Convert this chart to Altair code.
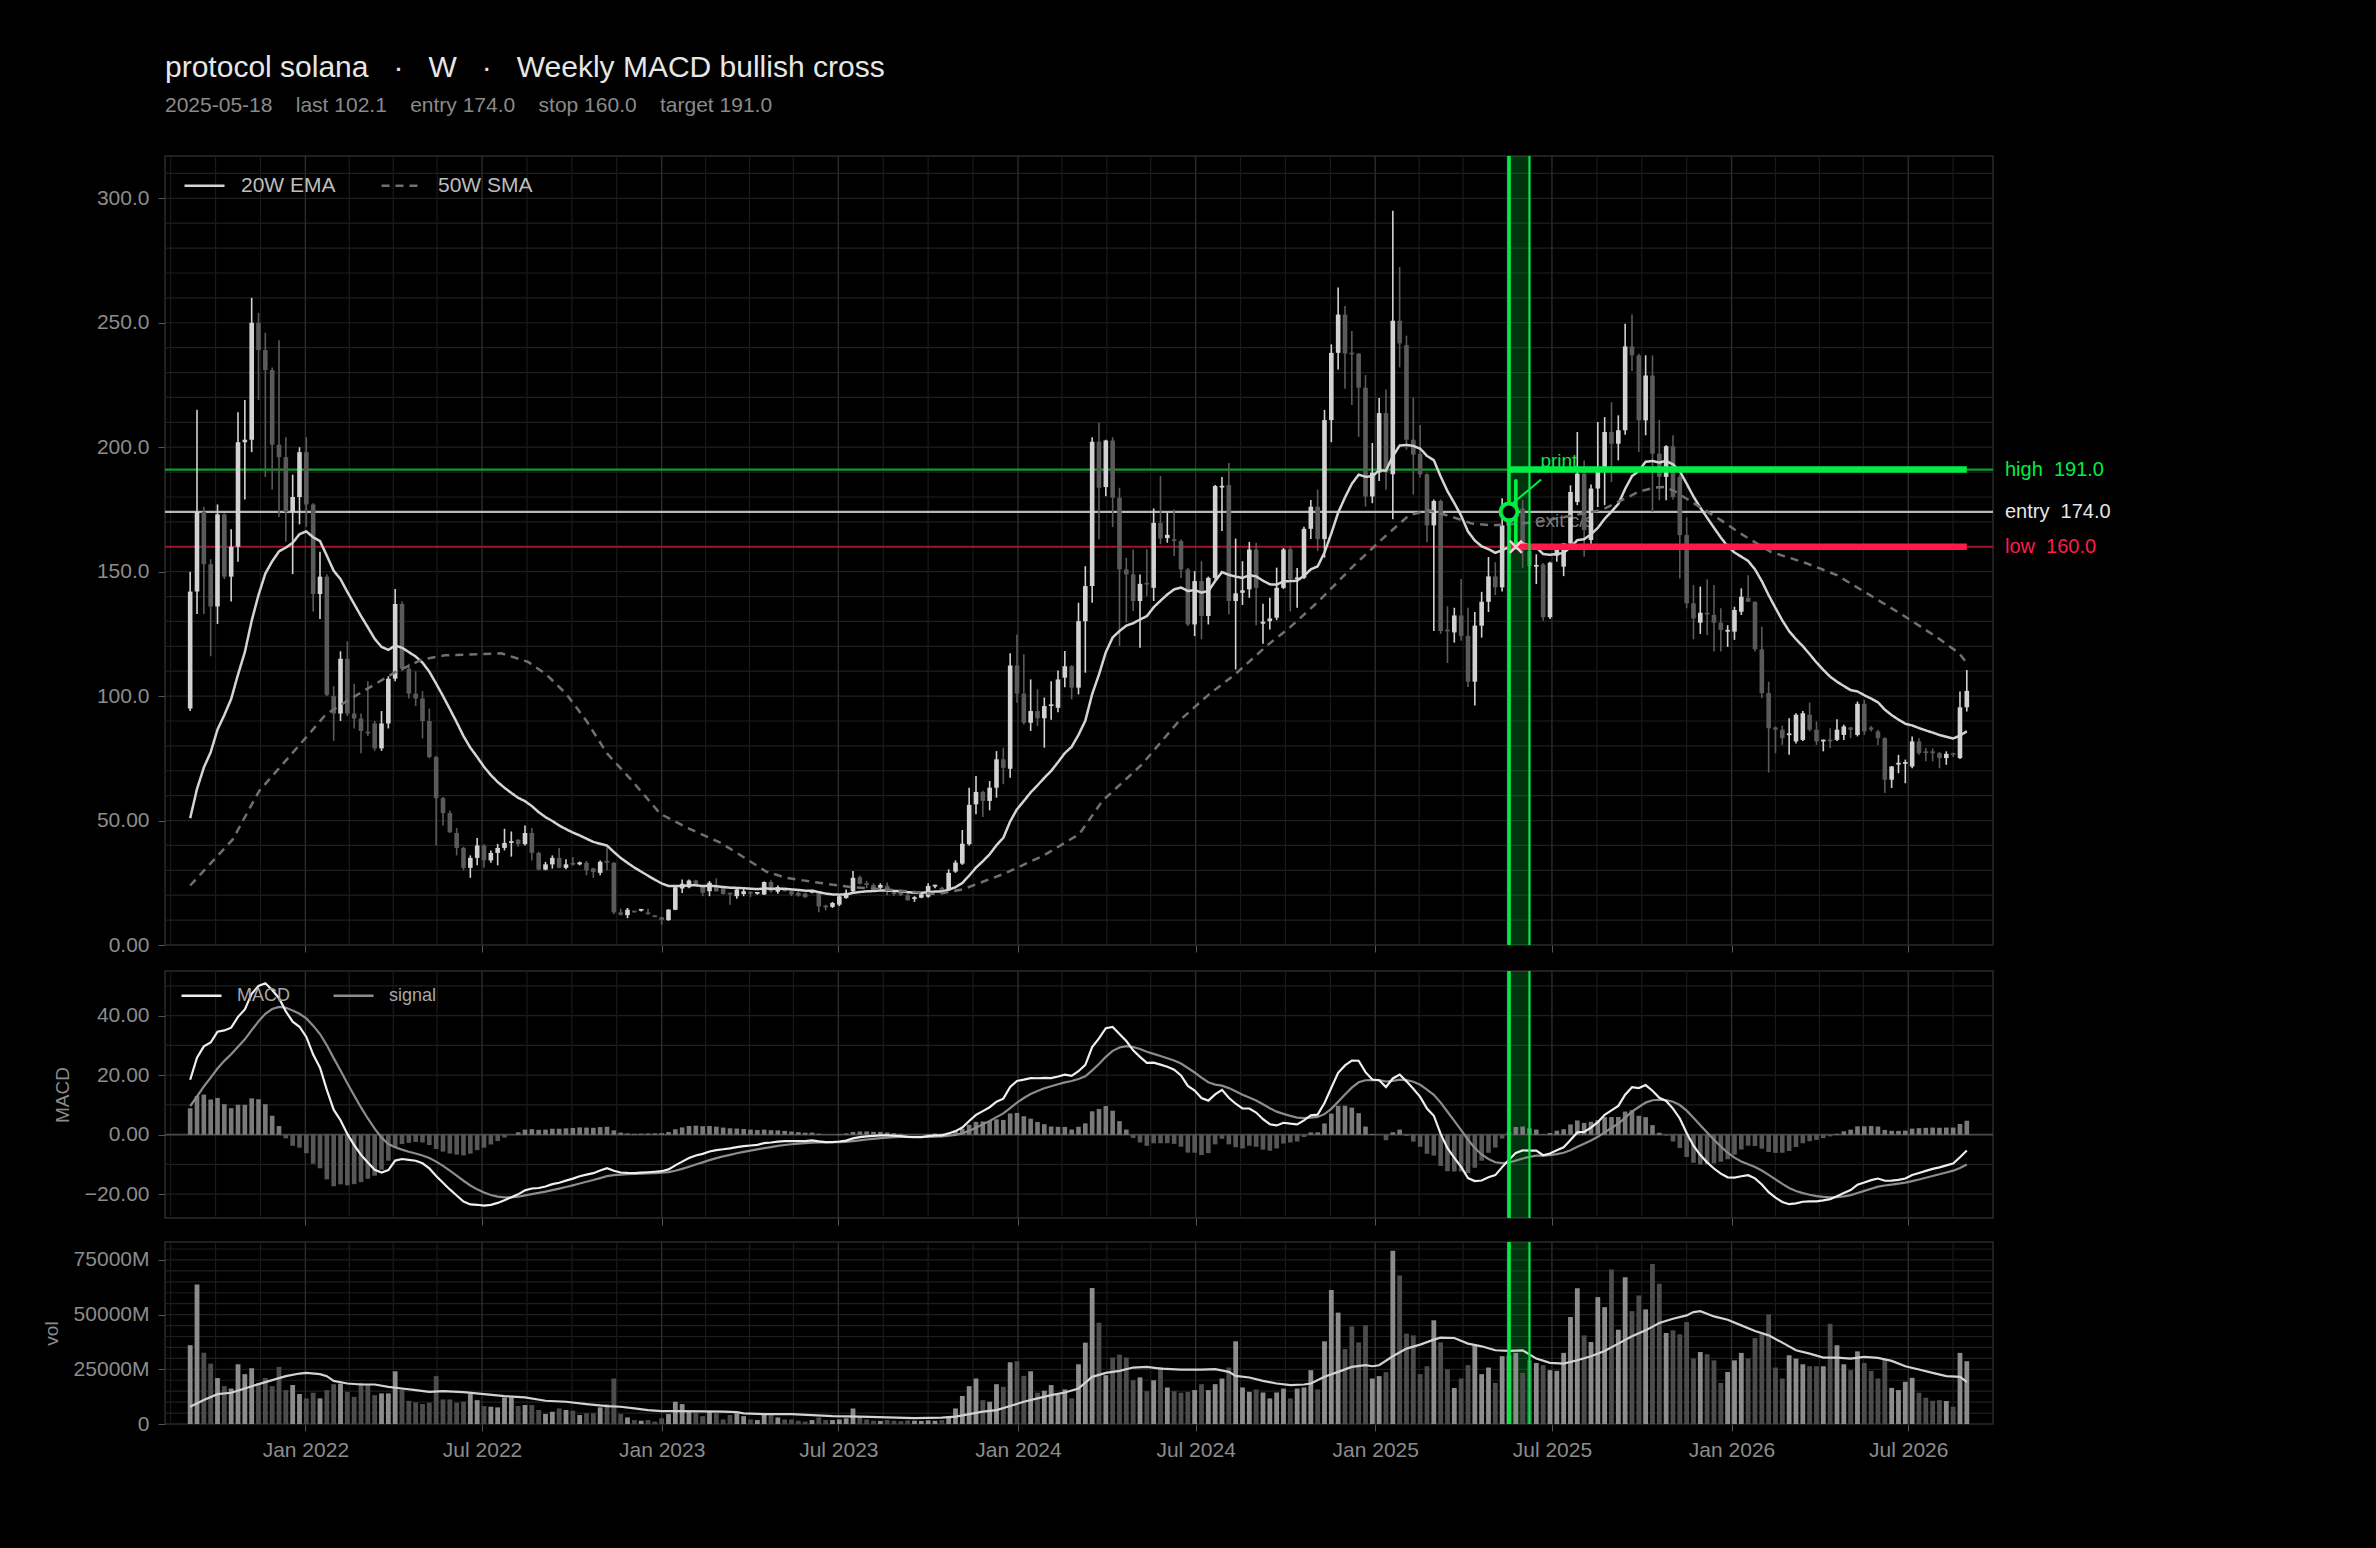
import datetime as dt
import numpy as np
import pandas as pd
import altair as alt

# ---------------- data ----------------
START = dt.datetime(2021, 9, 5)          # first weekly candle (Sunday)
SIGNAL_IDX = 193                          # 2025-05-18
BAND_END_IDX = 196
TRADE_IDX = 194
LAST_IDX = 260
ENTRY, STOP, TARGET, LAST = 174.0, 160.0, 191.0, 102.1

opens = [95,142,174,153,136,173,148,160,202,203,250,239,231,201,196,174,180,198,177,141,
         148,100,93,115,93,91,85.5,89,79,89,107,137,111,101,99,90,75.5,59,53,45,
         39,31,35,40,34,37,39,41,42.3,40.5,45,37,30.3,32.4,35,31,32.6,32.4,33,30.8,
         29,33.3,33,13.1,12,13.5,13.8,13.1,11.9,11.1,10,14.2,22.7,23.2,25.9,23.6,21.6,23.2,23,20.8,
         19.6,20.5,21.2,20.6,20.3,25.3,21.4,22.6,21.6,21,20.7,21,21,15.5,15.3,16.2,18.9,21.6,27.2,24.8,
         24.1,23,23.8,21,20.9,20,18.5,19,19.4,23.5,23,22.4,29.5,32.7,40.5,56.5,61.5,57.9,63.2,74.6,
         70.8,112.3,101,89.3,94,91.1,96,95.3,107.4,112,103.4,130.1,144.2,202.2,184,202.7,179.7,150.9,148.9,138.2,
         145.5,143.5,169.6,163.5,163,162.3,150.9,128.8,146.2,132.2,147.5,183.8,184.8,138.2,141.5,142.9,158.9,129.1,130.1,131.5,
         143.5,159,147,147.5,167.2,176.1,163.1,210.9,237.9,253.3,237.9,237.6,223.9,180.2,189.8,213.7,189.1,250.8,241,203,
         197.3,189.1,168.6,178.4,126.5,125.6,132.4,124.2,105.8,128.3,137.9,148.1,143.7,168.6,172,175.4,158.3,152,152.9,131.7,
         156.4,152,161.3,178,189.4,162.7,183.4,192.1,206.1,201.4,206.8,240.5,236.9,210.8,228.8,197.4,188.1,200.4,188.1,164.7,
         137.3,129.5,133.5,132.6,129.5,125.9,125.9,133.9,139.5,137.9,118.8,101.2,87.4,86.5,84.3,81.8,82.4,92.5,86.5,81.8,
         82.4,82.4,84.4,87.4,84.4,96.9,87.4,85.8,83.1,66.4,72.5,72.8,71.7,81.8,77.8,77.2,77.1,75.1,76.8,75.1,
         95.5]
highs = [150,215,176,155,177,173.5,167,214,219,260,254,246,232,243,204,189,200,204,177.5,158,
         149,104,118,122,105,93,106,90,94,108,143,138,113,110,102,95,76,59.5,54,47,
         39.5,36,43,40.5,38,40.6,46.7,45.6,42.5,48,47,37.5,33.4,36,39,34.5,35.4,33.5,33.8,31,
         34,39.2,33.2,14.6,14.9,13.8,14.3,14.6,12,11.3,14.4,23.6,26.3,26.3,26.2,23.8,25.7,26.8,23.3,21,
         23,23.2,21.5,21.3,25.5,26,23.9,22.8,22.3,21.6,21,22.2,21.2,16.2,17.3,20,22.3,29.7,27.8,25.7,
         24.8,24.8,25.1,21.6,21.2,20.6,19.6,21,24.8,24.2,23.4,30.4,34,46.2,63.2,67.9,62,65.9,77.9,79.3,
         117.2,124.8,116.8,106.7,102.7,99.4,106,110.3,118.1,112.5,137.5,152.2,204,209.8,203,204,183.7,155.6,158.9,148.9,
         159,175.4,188.4,173.6,175,163,151.5,150.2,154.2,148,184.8,188,193.7,163.3,154.2,162,161.6,137.1,139.5,151.6,
         159.5,160,151.5,168,178.8,183,215,241.3,264.2,256.7,246.7,237.8,229,201.7,219.8,223.2,295,272.4,244.8,220,
         208.9,189.5,179,179,136.1,135.5,147,135.5,133.8,141.9,155.9,153.8,179.5,180,187,178.8,163.1,157,153.5,154,
         161,161.5,184.7,206.1,194.7,185,210.1,212.1,218.1,212.8,249.6,253.3,237.5,236.9,236.9,211,200.8,204.8,189,171.7,
         144.6,144,146.9,144.6,135.3,128.5,135.9,143.3,148.6,138,127.9,105.8,87.8,88.1,91.1,93.1,94,97.4,89.8,82.5,
         87.1,90.7,88.5,87.6,97.8,98.5,88,86.5,83.5,71.9,76.4,74.5,83.8,83.1,79.1,79,77.6,77.8,77.2,101.8,
         110.5]
lows = [94,133,133,116,129,147,138,154,179,198,219,188,183,172,162,149,169,168,134,131,
        100,82,90,92,87,77,84,78,78,87,106,110,99,96,83,75,40,48,45,36,
        30,27,32,31,33,32,38,35.5,39.5,40,34,30,30,30.7,30.8,30.4,31.8,32,28,27,
        28,30,12.4,11.8,10.8,13,13.5,12.2,11.1,8.1,9.7,14,20.9,22.8,23.9,19.6,19.6,21.4,20.3,16.2,
        18.6,19.6,19.2,20.2,20.1,21,20.6,21.4,19.6,19.4,19,20.8,13.2,13.9,14.9,15.6,18.6,21.3,24.3,22.8,
        22.3,22.5,20,19.8,19.7,17.8,17.3,18.8,19,22.8,21.3,22,29,32.2,40,52.5,51.4,54.1,59.2,64.6,
        67.2,97.3,88.6,86,88,79.3,90.5,93.5,103.6,98.7,100.7,109.4,137.5,163,180.3,167.9,120.1,129.5,134.2,119.4,
        140.2,138.2,161,161.6,156.3,147.5,128.2,124.1,122.8,128.8,146.5,166.3,132.8,110.7,136.6,139.5,128.5,121,126.8,130.5,
        143,134,135.5,147,163.1,158.3,155.6,202,231.2,223.5,217,204.1,176.1,177.5,186.4,182.9,171.1,232.1,199,181,
        187.7,161.8,126.2,125,113.3,121.5,122.2,103.7,96.2,123.5,133.8,140.6,142,160,161,151.5,142,145,130.3,131,
        154,148.2,160,176.7,156,160,176,176.7,186,194.7,205,230.6,198.1,204.8,174,178.7,178.7,179,147.3,135.3,
        122.8,125,124.6,117.9,117.9,119.8,122.6,132.6,137.9,117.9,99.2,69.3,77.1,80.4,76.4,81,82,85.8,80.4,77.8,
        79.1,82,82.4,83.1,83.8,84.4,85.8,80.4,61.1,63.1,69,65,71,76.4,73.8,73.8,71,72.4,75.5,74.7,
        93.8]
closes = [142,174,153,136,173,148,160,202,203,250,239,231,201,196,174,180,198,177,141,148,
          100.5,93,115,93,91,86,85,79,89,107,137,111,101,99,90,75.5,59,53,45.3,39,
          31,35,40,34,37,39,41,41.4,40.5,45,37,30.3,32.4,35,31,32.4,32.3,33.2,30,29.3,
          33.4,33.1,13.1,12.2,14.2,13.1,13.9,12.4,11.2,10.1,14.2,23.2,24.6,25.9,24,21,25,21.6,20.5,20.3,
          22.3,21.6,20.7,20.8,25.3,21.6,23.2,21.6,20.3,19.9,19.2,21.9,15.5,15.1,16.9,19.6,21,27,24.6,24.1,
          22.7,24.1,21.6,20.5,20,18,18.9,20.4,23.7,23.8,21.7,29,33.1,40.7,56.3,61.5,57.9,63.2,74.6,71.2,
          112.3,101,89.3,94,91.1,96,96.3,106.7,112,103.4,130.1,144.2,202.2,183.7,202.7,179.7,150.9,148.9,138.2,145.1,
          144.8,169.6,163.3,164.8,162.3,150.9,128.8,146.2,132.2,147.5,184.4,184.3,138.2,141.3,142.5,158.9,143.5,129.9,131.2,143.5,
          158.9,147,147.5,167.2,176.1,163.1,210.9,237.9,253.3,237.6,237.3,223.9,180.2,189.8,213.7,189.8,250.8,241.7,203,197,
          189.1,168.6,178.4,126.2,126,132.4,124.2,105.8,128.3,137.9,148.1,143.7,168.6,172,175,162,152.2,152.5,131.7,153.6,
          160.6,161.3,182,189.4,166.7,183.4,192.1,206.1,201.4,206.8,240.5,236.9,210.8,228.8,197.4,188.1,200.4,180,164.7,137.3,
          131.2,133.5,132.8,129.5,126.6,126.2,134.6,139.9,137.9,118.8,101.2,87.1,86.5,83.1,84.8,92.5,93.1,86.5,81.8,82.4,
          81.8,86.5,87.8,86.5,96.9,85.8,86.5,83.1,66.4,71.7,73.2,73.3,81.8,77.1,77.1,77.1,75.1,76.8,76.4,95.5,
          102.1]
volumes_m = [36000,63800,32600,27600,21000,17300,16200,27300,22800,25500,18800,21000,17300,26100,15500,17800,13700,11700,14300,11700,
             15500,18200,18500,14700,12400,18800,18200,13200,14000,14000,24100,15800,10600,9900,9100,9700,21900,11200,11200,9700,
             10200,13700,10900,8200,7900,7600,12100,12100,8200,8700,8700,6400,4600,5600,7100,6400,6100,4100,4900,4900,
             7600,9100,20800,4600,3000,1800,1500,1800,1100,2600,4600,10200,9100,5600,5200,3600,5600,4900,2100,4100,
             4900,3600,2100,1800,4900,4100,3000,2100,2100,1500,1100,1800,3000,1800,1800,2100,2600,7100,3300,2100,
             1500,1400,1800,1500,1300,1600,1500,1400,1700,1500,1800,3000,7100,12800,17300,20800,10900,10200,18200,17000,
             28200,28700,22000,24100,14300,15200,17800,13500,15800,11700,27300,37200,62200,46300,22300,30400,31700,30400,20000,21300,
             15000,20000,26100,16700,15000,14300,14700,15500,18200,15500,18200,20800,25800,37800,16700,14700,15800,14400,11700,14400,
             16200,11700,16200,16700,24600,15800,37800,61300,50900,34300,44600,37300,45100,20800,21900,23700,79200,67900,41300,40500,
             22800,26400,47400,37300,25000,16500,20800,26900,36000,22800,25800,18800,31000,31400,32500,23400,29100,27900,26900,24600,
             24300,32500,48900,62100,40500,37500,58000,53400,70600,43100,67100,51600,58700,52400,73200,64100,41600,42800,41000,46600,
             29900,32900,31900,29100,18800,23800,29100,32500,29900,39300,41000,50100,25800,20800,31400,29900,27300,26400,26400,26400,
             45800,36000,27300,24600,33200,27900,24300,20800,29400,16500,15500,19300,21100,14300,12000,10600,10900,10500,7900,32500,
             28700]

# 50-week SMA (week index, value)
sma_idx = [0,6.2,10.1,16.9,19.8,23.2,30,33.9,37.3,45.5,49.4,52,55,58,61,64.6,68.8,72.6,77.5,79.9,
           84.3,87.2,92,96.9,101.8,104.4,109.3,113.1,118.9,124.8,130.1,133.5,139.3,144.7,149.1,152.9,157.8,160.9,165.3,170.2,
           175,178.4,181.3,184.7,187.6,190.5,194.4,197.3,199.8,206.5,209.5,211.9,214.3,215.8,217.2,220.1,224,226.9,231.3,236.6,
           241,245.8,250.6,255.5,258.9,260]
sma_val = [23.9,42.3,61.9,83.2,92.5,98.5,109.6,114.7,116.4,117.2,113.8,109,101,90,77,66.2,52.7,47.3,41.2,37.2,
           29.5,27,25,23.2,22.3,21.7,20.4,22.4,28.4,35.8,44.5,57.9,72.6,90,100.7,108.7,120.8,127.5,138.5,152.2,
           164.5,172.7,174.7,172,169.3,168.6,169.3,170,171.3,174.7,178.7,182,183.8,184,182.4,177.4,170.7,165.3,158,153.3,
           148.6,140.6,132.6,123.9,117.2,113.2]

# volume moving average (week index, value in M)
volma_idx = [0,2,4,6,8,10,12,14,16,17,19,20,21,23,25,27,29,31,33,35,37,40,43,46,49,52,55,58,61,63,65,67,69,71,75,78,80,81,84,88,
             91,94,98,102,106,110,112,114,116,118,120,122,124,126,128,130,132,134,136,138,140,142,145,148,150,152,153,155,157,159,
             161,163,164,166,168,170,172,173,174,176,178,180,182,183,185,187,189,191,193,195,197,199,201,203,205,207,209,211,213,215,
             217,219,220,221,223,225,227,229,231,233,235,237,239,241,243,245,247,249,251,253,255,257,259,260]
volma_val = [7900,10930,13660,14270,16240,18220,20040,21860,23070,23380,22770,21860,19730,18520,18060,18060,17000,16240,15480,14720,
             15030,14570,13660,12750,12140,10630,10170,9110,8200,7890,7130,6380,5920,5920,5770,5620,5460,4860,4550,4550,
             4100,3640,3340,3040,2730,2880,3340,4550,5620,6380,8200,10170,11690,13210,14420,16240,21560,23380,24290,25810,
             26110,25350,24900,24900,25050,23830,22010,21250,19730,18520,17760,18060,18520,21560,23830,26110,26870,26410,26870,30970,
             34460,36280,38560,39470,39320,36740,35520,33700,33400,33700,29900,27930,27630,29150,30970,33400,36740,40080,42810,46150,
             48120,49640,51160,51610,49180,47670,45080,42500,40530,37190,33700,32180,30360,30360,29900,30660,30210,28840,26410,24900,
             23380,21860,21560,19280]

N = len(closes)
assert len(opens) == N and len(highs) == N and len(lows) == N and len(volumes_m) == N
assert len(sma_idx) == len(sma_val) and len(volma_idx) == len(volma_val)

# ---------------- indicators ----------------
def ema(values, span, seed):
    a = 2.0 / (span + 1)
    out, e = [], seed
    for v in values:
        e = e + a * (v - e)
        out.append(e)
    return out

ema20 = ema(closes, 20, 41.4)
ema12 = ema(closes, 12, 50.0)
ema26 = ema(closes, 26, 38.0)
macd = [a - b for a, b in zip(ema12, ema26)]
signal = ema(macd, 9, 7.35)
hist = [m - s for m, s in zip(macd, signal)]

def wk(i):
    return START + dt.timedelta(days=7 * i)

dates = [wk(i) for i in range(N)]
df = pd.DataFrame({"date": dates, "open": opens, "high": highs, "low": lows,
                   "close": closes, "vol": volumes_m, "hist": hist})
df["dir"] = np.where(df["close"] >= df["open"], "up", "down")
df["b_lo"] = df[["open", "close"]].min(axis=1)
df["b_hi"] = np.maximum(df[["open", "close"]].max(axis=1), df["b_lo"] + 0.7)

lines_df = pd.concat([
    pd.DataFrame({"date": dates, "val": ema20, "series": "20W EMA"}),
    pd.DataFrame({"date": [wk(i) for i in sma_idx], "val": sma_val, "series": "50W SMA"}),
])
macd_df = pd.concat([
    pd.DataFrame({"date": dates, "val": signal, "series": "signal"}),
    pd.DataFrame({"date": dates, "val": macd, "series": "MACD"}),
])
volma_df = pd.DataFrame({"date": [wk(i) for i in volma_idx], "val": volma_val})

# ---------------- styling ----------------
FONT = "Liberation Sans"
GREEN = "#00ee44"
RED = "#ff1a4b"
W = 1828
H_PRICE, H_MACD, H_VOL = 789, 247, 182
AX = dict(labelFontSize=21, labelColor="#8c8c8c", labelFont=FONT, tickColor="#555555",
          tickSize=7, grid=False, domain=False, titleFontSize=19, titleColor="#8c8c8c",
          titleFont=FONT, titleFontWeight="normal")

X_DOMAIN = [alt.DateTime(year=2021, month=8, date=15, hours=8),
            alt.DateTime(year=2026, month=9, date=20, hours=17)]
XSCALE = alt.Scale(domain=X_DOMAIN)
X_TICKS = [alt.DateTime(year=y, month=m, date=1) for y in range(2022, 2027) for m in (1, 7)]

XA_HIDDEN = alt.Axis(values=X_TICKS, format="%b %Y", labels=False, ticks=True, title=None, **AX)
XA_SHOWN = alt.Axis(values=X_TICKS, format="%b %Y", labels=True, ticks=True, labelPadding=8, title=None, **AX)

PRICE_AX = alt.Axis(values=[0, 50, 100, 150, 200, 250, 300],
                    labelExpr="datum.value == 0 ? '0.00' : format(datum.value, '.4r')",
                    labelPadding=9, title=None, **AX)
MACD_AX = alt.Axis(values=[-20, 0, 20, 40], format=".2f", title="MACD", titlePadding=12,
                   labelPadding=9, **AX)
VOL_AX = alt.Axis(values=[0, 25000, 50000, 75000],
                  labelExpr="datum.value == 0 ? '0' : format(datum.value, 'd') + 'M'",
                  title="vol", titlePadding=12, labelPadding=9, **AX)

PS = alt.Scale(domain=[0, 317], nice=False, zero=False)
MS = alt.Scale(domain=[-28, 55], nice=False, zero=False)
VS = alt.Scale(domain=[0, 83200], nice=False, zero=True)

def mk_x(xaxis):
    def X(field="date"):
        return alt.X(f"{field}:T", scale=XSCALE, axis=xaxis)
    return X

def mk_y(scale, yaxis):
    def Y(field):
        return alt.Y(f"{field}:Q", scale=scale, axis=yaxis, stack=None)
    return Y

d_lo = dt.datetime(2021, 8, 15, 8)
d_hi = dt.datetime(2026, 9, 20, 17)
grid_major = [dt.datetime(y, m, 1) for y in range(2022, 2027) for m in (1, 7)]
grid_minor = [dt.datetime(y, m, d) for y in range(2021, 2027)
              for (m, d) in ((2, 15), (4, 1), (5, 16), (8, 16), (10, 1), (11, 16))]
grid_minor = [d for d in grid_minor if d_lo <= d <= d_hi]
vmaj_df = pd.DataFrame({"d": grid_major})
vmin_df = pd.DataFrame({"d": grid_minor})
band_df = pd.DataFrame({"x1": [wk(SIGNAL_IDX)], "x2": [wk(BAND_END_IDX)]})

def common_layers(X, Y, hvals):
    hg = alt.Chart(pd.DataFrame({"v": hvals})).mark_rule(color="#1f1f1f", strokeWidth=1.2).encode(y=Y("v"))
    vmin = alt.Chart(vmin_df).mark_rule(color="#1a1a1a", strokeWidth=1.2).encode(x=X("d"))
    vmaj = alt.Chart(vmaj_df).mark_rule(color="#2c2c2c", strokeWidth=1.4).encode(x=X("d"))
    band = alt.Chart(band_df).mark_rect(color="#00e640", opacity=0.22).encode(x=X("x1"), x2="x2:T")
    return [hg, vmin, vmaj, band]

def band_edges(X):
    l = alt.Chart(band_df).mark_rule(color=GREEN, strokeWidth=3.6).encode(x=X("x1"))
    r = alt.Chart(band_df).mark_rule(color=GREEN, strokeWidth=2.2).encode(x=X("x2"))
    return [l, r]

up_col = alt.condition("datum.dir == 'up'", alt.value("#d2d2d2"), alt.value("#5a5a5a"))

# ---------------- price panel ----------------
PX = mk_x(XA_HIDDEN)
PY = mk_y(PS, PRICE_AX)

lvl_df = pd.DataFrame({"v": [TARGET, ENTRY, STOP],
                       "thin": ["#129a2a", "#b8b8b8", "#a3122f"],
                       "bright": [GREEN, "#e6e6e6", RED],
                       "label": [f"high\u00a0\u00a0{TARGET:.1f}", f"entry\u00a0\u00a0{ENTRY:.1f}", f"low\u00a0\u00a0{STOP:.1f}"],
                       "x1": [wk(SIGNAL_IDX)] * 3, "x2": [wk(LAST_IDX)] * 3})
thin_lvls = alt.Chart(lvl_df).mark_rule(strokeWidth=2.2).encode(
    y=PY("v"), color=alt.Color("thin:N", scale=None))
thick_lvls = alt.Chart(lvl_df[lvl_df["v"] != ENTRY]).mark_rule(strokeWidth=6.5).encode(
    x=PX("x1"), x2="x2:T", y=PY("v"), color=alt.Color("bright:N", scale=None))
right_lbls = alt.Chart(lvl_df).mark_text(align="left", baseline="middle", fontSize=20, font=FONT, dx=12).encode(
    x=alt.value(W), y=PY("v"), text="label:N", color=alt.Color("bright:N", scale=None))

exit_txt = alt.Chart(pd.DataFrame({"d": [wk(196.8)], "v": [170.3], "t": ["exit c/s"]})).mark_text(
    align="left", baseline="middle", fontSize=19, font=FONT, color="#7c7c7c").encode(
    x=PX("d"), y=PY("v"), text="t:N")

wicks = alt.Chart(df).mark_rule(strokeWidth=1.6).encode(
    x=PX("date"), y=PY("low"), y2="high:Q", color=up_col)
bodies = alt.Chart(df).mark_bar(size=4.6).encode(
    x=PX("date"), y=PY("b_lo"), y2="b_hi:Q", color=up_col)

price_legend = alt.Legend(orient="none", legendX=18, legendY=8, direction="horizontal", title=None,
                          symbolType="stroke", symbolSize=1600, symbolStrokeWidth=2.5,
                          labelFontSize=21, labelColor="#bdbdbd", labelFont=FONT,
                          labelOffset=15, columnPadding=40)
ma_lines = alt.Chart(lines_df).mark_line(strokeWidth=2.5).encode(
    x=PX("date"), y=PY("val"),
    color=alt.Color("series:N", scale=alt.Scale(domain=["20W EMA", "50W SMA"], range=["#d4d4d4", "#707070"]),
                    legend=price_legend),
    strokeDash=alt.StrokeDash("series:N", scale=alt.Scale(domain=["20W EMA", "50W SMA"], range=[[1, 0], [8, 6]]),
                              legend=price_legend))

trade_rule = alt.Chart(pd.DataFrame({"d": [wk(TRADE_IDX)], "lo": [161.0], "hi": [187.0]})).mark_rule(
    color=GREEN, strokeWidth=3.6).encode(x=PX("d"), y=PY("lo"), y2="hi:Q")
connector = alt.Chart(pd.DataFrame({"d1": [wk(193.6)], "d2": [wk(197.7)], "v1": [177.6], "v2": [187.0]})).mark_rule(
    color=GREEN, strokeWidth=2).encode(x=PX("d1"), x2="d2:T", y=PY("v1"), y2="v2:Q")
entry_pt = alt.Chart(pd.DataFrame({"d": [wk(SIGNAL_IDX)], "v": [ENTRY]})).mark_point(
    shape="circle", filled=True, fill="#000000", stroke=GREEN, strokeWidth=4, size=280, opacity=1).encode(
    x=PX("d"), y=PY("v"))
exit_pt = alt.Chart(pd.DataFrame({"d": [wk(TRADE_IDX)], "v": [STOP]})).mark_point(
    shape="M-1,-1L1,1M1,-1L-1,1", filled=False, stroke="#f6cdd6", strokeWidth=2.5, size=150, opacity=1).encode(
    x=PX("d"), y=PY("v"))
print_txt = alt.Chart(pd.DataFrame({"d": [wk(197.6)], "v": [192.0], "t": ["print"]})).mark_text(
    align="left", baseline="alphabetic", fontSize=19, font=FONT, color=GREEN).encode(
    x=PX("d"), y=PY("v"), text="t:N")

price = alt.layer(
    *common_layers(PX, PY, list(range(0, 320, 10))),
    thin_lvls, exit_txt, wicks, bodies, ma_lines, thick_lvls, *band_edges(PX),
    trade_rule, connector, entry_pt, exit_pt, print_txt, right_lbls,
).properties(
    width=W, height=H_PRICE,
    title=alt.TitleParams(
        text="protocol solana\u00a0\u00a0\u00a0·\u00a0\u00a0\u00a0W\u00a0\u00a0\u00a0·\u00a0\u00a0\u00a0Weekly MACD bullish cross",
        subtitle=f"2025-05-18\u00a0\u00a0\u00a0\u00a0last {LAST:.1f}\u00a0\u00a0\u00a0\u00a0entry {ENTRY:.1f}"
                 f"\u00a0\u00a0\u00a0\u00a0stop {STOP:.1f}\u00a0\u00a0\u00a0\u00a0target {TARGET:.1f}",
        anchor="start", frame="group", fontSize=30, subtitleFontSize=21, font=FONT, subtitleFont=FONT,
        fontWeight="normal", color="#e6e6e6", subtitleColor="#8a8a8a", subtitlePadding=12, offset=38))

# ---------------- MACD panel ----------------
MX = mk_x(XA_HIDDEN)
MY = mk_y(MS, MACD_AX)
zero_line = alt.Chart(pd.DataFrame({"v": [0]})).mark_rule(color="#4a4a4a", strokeWidth=1.6).encode(y=MY("v"))
hist_bars = alt.Chart(df).mark_bar(size=4.6).encode(
    x=MX("date"), y=MY("hist"),
    color=alt.condition("datum.hist >= 0", alt.value("#7a7a7a"), alt.value("#575757")))
macd_legend = alt.Legend(orient="none", legendX=15, legendY=3, direction="horizontal", title=None,
                         symbolType="stroke", symbolSize=1600, symbolStrokeWidth=2.5,
                         labelFontSize=18, labelColor="#a8a8a8", labelFont=FONT,
                         labelOffset=14, columnPadding=38)
macd_lines = alt.Chart(macd_df).mark_line(strokeWidth=2.2).encode(
    x=MX("date"), y=MY("val"),
    color=alt.Color("series:N", scale=alt.Scale(domain=["MACD", "signal"], range=["#eeeeee", "#8c8c8c"]),
                    legend=macd_legend))
macd_panel = alt.layer(
    *common_layers(MX, MY, list(range(-20, 60, 10))),
    zero_line, hist_bars, macd_lines, *band_edges(MX),
).properties(width=W, height=H_MACD)

# ---------------- volume panel ----------------
VX = mk_x(XA_SHOWN)
VY = mk_y(VS, VOL_AX)
vol_bars = alt.Chart(df).mark_bar(size=4.8).encode(
    x=VX("date"), y=VY("vol"),
    color=alt.condition("datum.dir == 'up'", alt.value("#8c8c8c"), alt.value("#4c4c4c")))
vol_ma = alt.Chart(volma_df).mark_line(strokeWidth=2.2, color="#d2d2d2").encode(x=VX("date"), y=VY("val"))
vol_panel = alt.layer(
    *common_layers(VX, VY, list(range(0, 85000, 5000))),
    vol_bars, vol_ma, *band_edges(VX),
).properties(width=W, height=H_VOL)

chart = alt.vconcat(price, macd_panel, vol_panel, spacing=12).resolve_scale(
    color="independent", strokeDash="independent", y="independent"
).properties(
    padding={"left": 33, "top": 44, "right": 150, "bottom": 50}
).configure(background="#000000", font=FONT).configure_view(
    stroke="#2b2b2b", strokeWidth=1.5
)

chart.save("out.html", embed_options={"renderer": "svg", "actions": False})

# page background black like the reference screenshot
with open("out.html", encoding="utf-8") as fh:
    page = fh.read()
page = page.replace("<head>", "<head>\n<style>html, body { background: #000000; }</style>", 1)
with open("out.html", "w", encoding="utf-8") as fh:
    fh.write(page)
